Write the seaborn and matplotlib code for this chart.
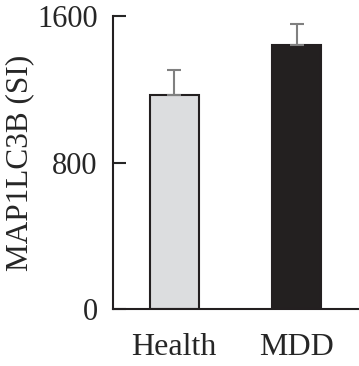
import numpy as np
import pandas as pd
import seaborn as sns
import matplotlib.pyplot as plt

# values
groups = ['Health', 'MDD']
means = [1168, 1442]
errors = [135, 116]
bar_colors = ['#dcdddf', '#231f20']

sns.set_style('white')
plt.rcParams['font.family'] = ['Liberation Serif', 'DejaVu Serif']

df = pd.DataFrame({'group': groups, 'value': means})

fig = plt.figure(figsize=(3.59, 3.66), dpi=100)
ax = fig.add_axes([0.315, 0.156, 0.682, 0.80])

sns.barplot(data=df, x='group', y='value', hue='group', palette=bar_colors,
            width=0.4, edgecolor='#231f20', linewidth=1.5, legend=False, ax=ax)

# upper error bars only
x = np.arange(len(groups))
ax.errorbar(x, means, yerr=[np.zeros(len(errors)), errors], fmt='none',
            ecolor='#808080', elinewidth=1.5, capsize=5, capthick=1.5, zorder=1)

ax.set_xlim(-0.5, 1.5)
ax.set_ylim(0, 1600)
ax.set_yticks([0, 800, 1600])
ax.set_xlabel('')
ax.set_ylabel('MAP1LC3B (SI)', fontsize=22.5)
ax.yaxis.label.set_va('center')
ax.yaxis.set_label_coords(-0.38, 0.5)
ax.tick_params(axis='y', direction='in', length=9, width=1.5, labelsize=22, left=True, pad=11)
ax.tick_params(axis='x', length=0, labelsize=23, pad=17)

sns.despine(ax=ax)
for side in ['left', 'bottom']:
    ax.spines[side].set_linewidth(1.5)
    ax.spines[side].set_color('#231f20')

fig.savefig('out.png', dpi=100)
